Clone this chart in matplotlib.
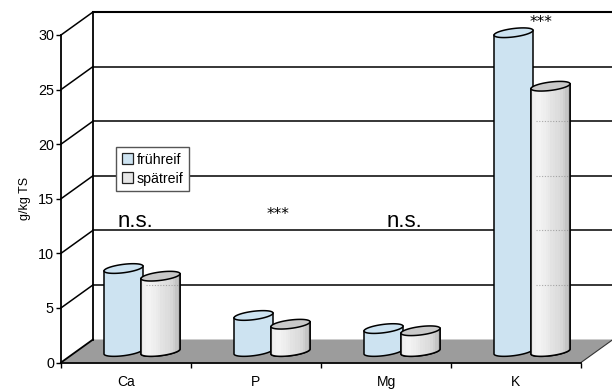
import numpy as np
import matplotlib
matplotlib.use('Agg')
from matplotlib import pyplot as plt
from matplotlib.patches import Polygon, Patch

plt.rcParams['font.family'] = ['Liberation Sans', 'DejaVu Sans']

categories = ['Ca', 'P', 'Mg', 'K']
fruehreif = [7.6, 3.3, 2.1, 29.2]
spaetreif = [6.9, 2.5, 1.9, 24.3]
signif = ['n.s.', '***', 'n.s.', '***']
yticks = [0, 5, 10, 15, 20, 25, 30]

BLUE = '#cde3f1'
GREY_TOP = '#c9c9c9'
FLOOR = '#9c9c9c'

fig = plt.figure(figsize=(6.12, 3.89), dpi=100)
ax = fig.add_axes([61/612, 26.5/389, 520/612, 327.5/389])
ax.set_xlim(0, 4)
ax.set_ylim(0, 30)

#pixel sizes in data units
px_x = 4/520
px_y = 30/327.5
depth_x = 32*px_x
depth_y = 23*px_y
wall_top = 350.5*px_y

#Floor and back wall
ax.add_patch(Polygon([(0, 0), (4, 0), (4+depth_x, depth_y), (depth_x, depth_y)],
                     facecolor=FLOOR, edgecolor='none', zorder=1, clip_on=False))
ax.plot([4, 4+depth_x], [0, depth_y], color='#333333', lw=0.8, clip_on=False, zorder=1.5)
ax.plot([depth_x, depth_x], [depth_y, wall_top], color='black', lw=1.3, clip_on=False, zorder=2)
ax.plot([0, depth_x], [0, depth_y], color='black', lw=1.3, clip_on=False, zorder=2)
ax.plot([depth_x, 5], [wall_top, wall_top], color='black', lw=1.5, clip_on=False, zorder=2)
for v in yticks[1:-1]:
    ax.plot([depth_x, 5], [v+depth_y, v+depth_y], color='black', lw=1.1, clip_on=False, zorder=2)
for v in yticks[1:]:
    ax.plot([0, depth_x], [v, v+depth_y], color='black', lw=1.1, clip_on=False, zorder=2)

#Band colours of the grey cylinders
grey_bands = np.array([[0.91, 0.94, 0.95, 0.95, 0.94, 0.93, 0.92, 0.91, 0.89, 0.88,
                        0.87, 0.86, 0.84, 0.81, 0.77, 0.72]])


def draw_cylinder(cx, value, colour, top_colour, gradient, z):
    a = 19.5*px_x
    b = 4.2*px_y
    s = 2.4*px_y
    base = 11*px_y
    t = np.linspace(0, np.pi, 60)
    #lower half of base ellipse left to right, then top ellipse right to left
    low_x = cx - a*np.cos(t)
    low_y = base - s*np.cos(t) - b*np.sin(t)
    up_x = cx + a*np.cos(t)
    up_y = base + value + s*np.cos(t)

    pts = np.column_stack([np.concatenate([low_x, up_x]), np.concatenate([low_y, up_y])])
    body = Polygon(pts, facecolor=colour, edgecolor='black', lw=1.1, zorder=z, clip_on=False)
    ax.add_patch(body)
    if gradient:
        im = ax.imshow(grey_bands, cmap='gray', vmin=0, vmax=1, aspect='auto',
                       extent=(cx-a, cx+a, 0, base+value+2), zorder=z+0.1, interpolation='nearest')
        im.set_clip_path(body)
        ax.add_patch(Polygon(pts, facecolor='none', edgecolor='black', lw=1.1, zorder=z+0.2, clip_on=False))
        #grid shows faintly through the grey cylinders
        for v in yticks[1:-1]:
            y = v+depth_y
            if y < base+value-b:
                ax.plot([cx-a*0.75, cx+a*0.95], [y, y], color='#8a8a8a', lw=0.8, alpha=0.7,
                        ls=(0, (1, 1.5)), zorder=z+0.15)
    tt = np.linspace(0, 2*np.pi, 120)
    ax.add_patch(Polygon(np.column_stack([cx + a*np.cos(tt),
                                          base + value + s*np.cos(tt) + b*np.sin(tt)]),
                         facecolor=top_colour, edgecolor='black', lw=1.1, zorder=z+0.3, clip_on=False))


for i in range(len(categories)):
    group = i + 0.5 + 16*px_x
    draw_cylinder(group - 18.5*px_x, fruehreif[i], BLUE, BLUE, False, 4)
    draw_cylinder(group + 18.5*px_x, spaetreif[i], '#e4e4e4', GREY_TOP, True, 5)

ax.set_xlim(0, 4)
ax.set_ylim(0, 30)

#Significance marks
star_font = ['DejaVu Sans']
ax.text(0.575, 12.9, signif[0], fontsize=16, ha='center', va='center', zorder=7)
ax.text(1.67, 13.6, signif[1], fontsize=11, ha='center', va='center', zorder=7, family=star_font)
ax.text(2.645, 12.9, signif[2], fontsize=16, ha='center', va='center', zorder=7)
ax.text(3.69, 31.1, signif[3], fontsize=11, ha='center', va='center', zorder=7, clip_on=False, family=star_font)

#Axes
ax.patch.set_visible(False)
for side in ['top', 'right']:
    ax.spines[side].set_visible(False)
for side in ['left', 'bottom']:
    ax.spines[side].set_linewidth(1.3)
    ax.spines[side].set_zorder(3)
ax.set_yticks(yticks)
ax.tick_params(axis='y', length=3.6, width=1, labelsize=10.4, pad=1.5)
ax.set_xticks(range(5))
ax.set_xticklabels([])
ax.tick_params(axis='x', which='major', length=3.6, width=1)
ax.set_xticks([i + 0.5 for i in range(4)], minor=True)
ax.set_xticklabels(categories, minor=True, fontsize=10)
ax.tick_params(axis='x', which='minor', length=0, pad=9)
ax.set_ylabel('g/kg TS', fontsize=9, labelpad=5)

#Legend
handles = [Patch(facecolor=BLUE, edgecolor='#222222', lw=0.9, label='frühreif'),
           Patch(facecolor='#e6e6e6', edgecolor='#222222', lw=0.9, label='spätreif')]
leg = ax.legend(handles=handles, loc='upper left', bbox_to_anchor=(55/520, 215.5/327.5),
                fontsize=10.2, frameon=True, fancybox=False, framealpha=1, edgecolor='#555555',
                handlelength=0.8, handleheight=0.8, handletextpad=0.25, borderpad=0.4,
                labelspacing=0.35, borderaxespad=0)
leg.set_zorder(8)
leg.get_frame().set_linewidth(1.0)

fig.savefig('out.png', dpi=100)
